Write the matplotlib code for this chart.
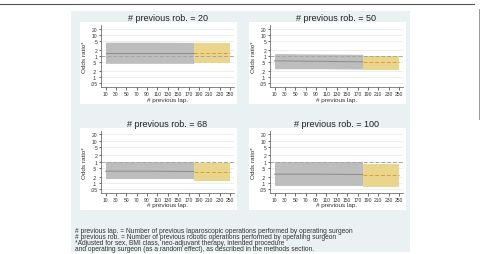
import matplotlib.pyplot as plt
import numpy as np
from matplotlib.patches import Rectangle

plt.rcParams["font.family"] = ["Liberation Sans", "DejaVu Sans"]

W, H = 482, 255

# data
rob_counts = [20, 50, 68, 100]
lap_ticks = list(range(10, 251, 20))
or_ticks = [0.05, 0.1, 0.2, 0.5, 1, 2, 5, 10, 20]
or_tick_labels = [".05", ".1", ".2", ".5", "1", "2", "5", "10", "20"]

# observed range (grey) and extrapolated range (yellow) of previous lap.
lap_obs = [10, 100, 180]
lap_ext = [180, 250]

est_obs = [[1.45, 1.45, 1.45], [0.59, 0.56, 0.53], [0.36, 0.36, 0.35], [0.26, 0.26, 0.25]]
lo_obs = [[0.45, 0.45, 0.45], [0.25, 0.25, 0.24], [0.15, 0.15, 0.15], [0.07, 0.07, 0.07]]
hi_obs = [[4.5, 4.5, 4.4], [1.3, 1.25, 1.2], [1.0, 1.0, 1.0], [1.03, 1.03, 1.03]]

est_ext = [[1.4, 1.4], [0.53, 0.53], [0.33, 0.33], [0.24, 0.24]]
lo_ext = [[0.45, 0.45], [0.21, 0.21], [0.12, 0.12], [0.063, 0.063]]
hi_ext = [[4.3, 4.3], [1.0, 1.0], [0.85, 0.85], [0.75, 0.75]]

footnotes = [
    "# previous lap. = Number of previous laparoscopic operations performed by operating surgeon",
    "# previous rob. = Number of previous robotic operations performed by operating surgeon",
    "*Adjusted for sex, BMI class, neo-adjuvant therapy, intended procedure",
    "and operating surgeon (as a random effect), as described in the methods section.",
]

BG = "#e9f1f3"
GREY = "#bdbdbd"
YELLOW = "#e9d58c"
TXT = "#333333"


def px_rect(x0, y0, x1, y1):
    return [x0 / W, 1 - y1 / H, (x1 - x0) / W, (y1 - y0) / H]


fig = plt.figure(figsize=(W / 100, H / 100), dpi=100)
fig.patch.set_facecolor("white")

# outer frame and light panel
fig.add_artist(plt.Line2D([0, 474 / W], [1 - 5 / H] * 2, color="#555555", lw=0.8))
fig.add_artist(plt.Line2D([479 / W] * 2, [1 - 10 / H, 1 - 120 / H], color="#888888", lw=0.6))
fig.add_artist(Rectangle((71 / W, 1 - 253 / H), 339 / W, 241 / H, color=BG, lw=0, zorder=-3))

offsets = [(0, 0), (169, 0), (0, 105.8), (169, 105.8)]

for i, rob in enumerate(rob_counts):
    dx, dy = offsets[i]
    # white graph box behind each panel
    fig.add_artist(Rectangle(((80 + dx) / W, 1 - (105 + dy) / H), 157 / W, 82 / H,
                             color="white", lw=0, zorder=-2))
    ax = fig.add_axes(px_rect(101 + dx, 26 + dy, 234 + dx, 88 + dy))
    ax.set_facecolor("white")
    ax.set_yscale("log")
    ax.set_xlim(1.3, 257.7)
    ax.set_ylim(10 ** -1.467, 10 ** 1.467)

    for t in or_ticks:
        ax.axhline(t, color="#e6ecee", lw=0.6, zorder=0)

    ax.fill_between(lap_obs, lo_obs[i], hi_obs[i], color=GREY, lw=0, zorder=1)
    ax.fill_between(lap_ext, lo_ext[i], hi_ext[i], color=YELLOW, lw=0, zorder=1)
    ax.plot(lap_obs, est_obs[i], color="#8a8a8a", lw=0.7, zorder=3)
    ax.plot(lap_ext, est_ext[i], color="#e39a3b", lw=0.7, ls=(0, (4, 2)), zorder=3)
    ax.axhline(1, color="#a5a5a5", lw=0.7, ls=(0, (4, 2)), zorder=2)

    ax.set_yticks(or_ticks)
    ax.set_yticklabels(or_tick_labels)
    ax.yaxis.set_minor_locator(plt.NullLocator())
    ax.set_xticks(lap_ticks)
    ax.tick_params(labelsize=3.6, length=1.8, width=0.5, pad=1, colors=TXT)
    for s in ["top", "right"]:
        ax.spines[s].set_visible(False)
    for s in ["left", "bottom"]:
        ax.spines[s].set_color("#555555")
        ax.spines[s].set_linewidth(0.5)

    ax.set_xlabel("# previous lap.", fontsize=4.6, labelpad=0.5, color=TXT)
    ax.set_ylabel("Odds ratio*", fontsize=4.6, labelpad=2, color=TXT)
    ax.set_title(f"# previous rob. = {rob}", fontsize=6.5, pad=3.5, color="#222222")

# footnote as one block, tightly spaced like the original
fig.text(75 / W, 1 - 228 / H, "\n".join(footnotes), fontsize=4.8, color=TXT,
         va="top", ha="left", linespacing=0.82)

fig.savefig("out.png", dpi=100)
